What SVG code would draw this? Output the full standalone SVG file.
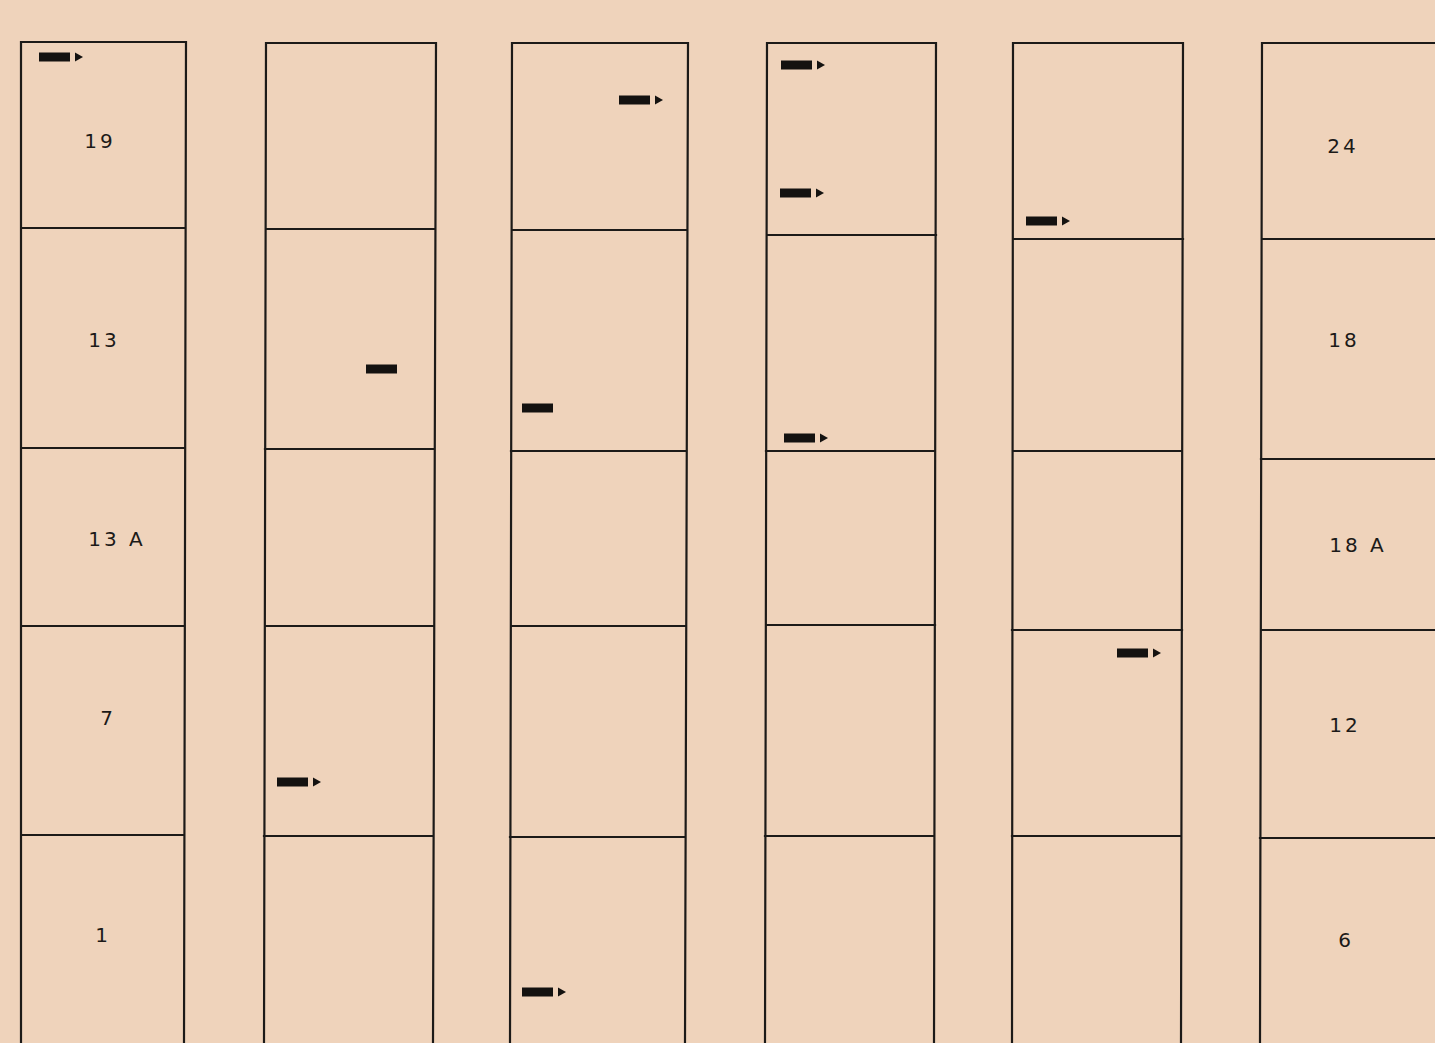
<svg xmlns="http://www.w3.org/2000/svg" xmlns:xlink="http://www.w3.org/1999/xlink" width="1435" height="1043" viewBox="0 0 1435 1043">
<style>
.ln{stroke:#1c1a18;stroke-width:2.2;fill:none;stroke-linecap:square}
.lb{font-family:"DejaVu Sans","Liberation Sans",sans-serif;font-size:20px;fill:#1c1a18;text-anchor:middle;letter-spacing:3px}
.mk{fill:#141210}
</style>
<defs>
<g id="arr"><rect x="0" y="-4.5" width="31" height="9" class="mk"/><path d="M36,-4.5 L44,0 L36,4.5 Z" class="mk"/></g>
<rect id="bar" x="0" y="-4.5" width="31" height="9" class="mk"/>
</defs>
<rect width="1435" height="1043" fill="#efd3bb"/>
<g id="column-1">
<path class="ln" d="M21,42 L186,42 M21,42 L21,1043 M186,42 L184,1043 M21,228 L185,228 M21,448 L185,448 M21,626 L184,626 M21,835 L184,835"/>
<text class="lb" x="100" y="148">19</text>
<text class="lb" x="104" y="347">13</text>
<text class="lb" x="117" y="546">13 A</text>
<text class="lb" x="108" y="725">7</text>
<text class="lb" x="103" y="942">1</text>
<use xlink:href="#arr" x="39" y="57"/>
</g>
<g id="column-2">
<path class="ln" d="M266,43 L436,43 M266,43 L264,1043 M436,43 L433,1043 M266,229 L435,229 M265,449 L434,449 M265,626 L434,626 M264,836 L433,836"/>
<use xlink:href="#bar" x="366" y="369"/>
<use xlink:href="#arr" x="277" y="782"/>
</g>
<g id="column-3">
<path class="ln" d="M512,43 L688,43 M512,43 L510,1043 M688,43 L685,1043 M512,230 L687,230 M511,451 L686,451 M511,626 L686,626 M510,837 L685,837"/>
<use xlink:href="#arr" x="619" y="100"/>
<use xlink:href="#bar" x="522" y="408"/>
<use xlink:href="#arr" x="522" y="992"/>
</g>
<g id="column-4">
<path class="ln" d="M767,43 L936,43 M767,43 L765,1043 M936,43 L934,1043 M767,235 L936,235 M766,451 L935,451 M766,625 L935,625 M765,836 L934,836"/>
<use xlink:href="#arr" x="781" y="65"/>
<use xlink:href="#arr" x="780" y="193"/>
<use xlink:href="#arr" x="784" y="438"/>
</g>
<g id="column-5">
<path class="ln" d="M1013,43 L1183,43 M1013,43 L1012,1043 M1183,43 L1181,1043 M1013,239 L1183,239 M1013,451 L1182,451 M1012,630 L1182,630 M1012,836 L1181,836"/>
<use xlink:href="#arr" x="1026" y="221"/>
<use xlink:href="#arr" x="1117" y="653"/>
</g>
<g id="column-6">
<path class="ln" d="M1262,43 L1436,43 M1262,43 L1260,1043 M1262,239 L1436,239 M1261,459 L1436,459 M1261,630 L1436,630 M1260,838 L1436,838"/>
<text class="lb" x="1343" y="153">24</text>
<text class="lb" x="1344" y="347">18</text>
<text class="lb" x="1358" y="552">18 A</text>
<text class="lb" x="1345" y="732">12</text>
<text class="lb" x="1346" y="947">6</text>
</g>
</svg>
